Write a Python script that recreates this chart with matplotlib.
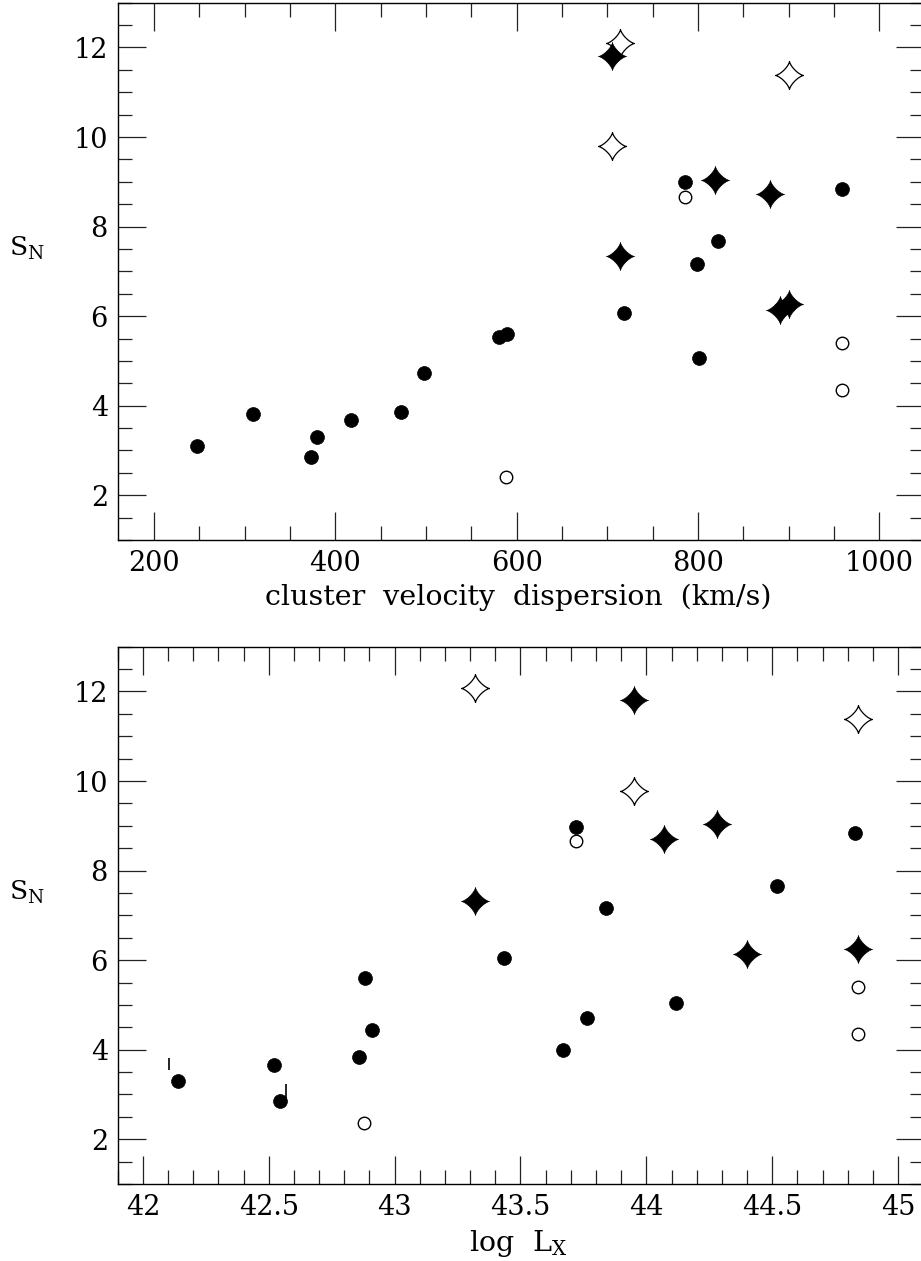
import matplotlib
matplotlib.use("Agg")
import matplotlib.pyplot as plt
from matplotlib.path import Path
from matplotlib.ticker import MultipleLocator
import numpy as np

plt.rcParams['font.family'] = ['DejaVu Serif']
plt.rcParams['mathtext.fontset'] = 'custom'
plt.rcParams['mathtext.rm'] = 'DejaVu Serif'

# ---- top panel: S_N vs cluster velocity dispersion ----
sig_dot = [247, 309, 373, 380, 417, 472, 498, 581, 589, 718, 799, 801, 822, 786, 959]
sn_dot = [3.10, 3.81, 2.86, 3.31, 3.67, 3.85, 4.74, 5.53, 5.60, 6.06, 7.17, 5.06, 7.67, 8.99, 8.84]

sig_ring = [588, 786, 959, 959]
sn_ring = [2.41, 8.66, 5.41, 4.35]

sig_star = [705, 714, 819, 879, 890, 900]
sn_star = [11.82, 7.34, 9.05, 8.72, 6.14, 6.27]

sig_ostar = [714, 705, 900]
sn_ostar = [12.09, 9.79, 11.38]

# ---- bottom panel: S_N vs log L_X ----
lx_dot = [42.14, 42.52, 42.545, 42.86, 42.884, 42.91, 43.435, 43.668, 43.72,
          43.763, 43.84, 44.117, 44.52, 44.83]
sn2_dot = [3.29, 3.66, 2.86, 3.84, 5.60, 4.44, 6.04, 4.00, 8.97,
           4.71, 7.16, 5.05, 7.65, 8.83]

lx_ring = [42.88, 43.72, 44.842, 44.842]
sn2_ring = [2.37, 8.65, 5.39, 4.34]

lx_star = [43.95, 43.32, 44.07, 44.28, 44.40, 44.842]
sn2_star = [11.81, 7.32, 8.71, 9.03, 6.14, 6.25]

lx_ostar = [43.32, 43.95, 44.84]
sn2_ostar = [12.07, 9.78, 11.38]

# short vertical bars near the faint clusters
lx_bar = [42.105, 42.567]
bar_lo = [3.54, 2.86]
bar_hi = [3.81, 3.24]

# four-pointed star marker (astroid-like)
t = np.linspace(0, 2 * np.pi, 121)
c, s = np.cos(t), np.sin(t)
k = 2.7
verts = np.column_stack([np.sign(c) * np.abs(c) ** k, np.sign(s) * np.abs(s) ** k])
star = Path(verts, closed=True)

fig = plt.figure(figsize=(9.21, 12.61), dpi=100)
W, H = 921.0, 1261.0
left = 117.7 / W
width = (923.5 - 117.7) / W
ax1 = fig.add_axes([left, 1 - 540 / H, width, 537.3 / H])
ax2 = fig.add_axes([left, 1 - 1184 / H, width, 537.3 / H])


def style(ax, major, minor):
    ax.set_ylim(1, 13)
    ax.xaxis.set_major_locator(MultipleLocator(major))
    ax.xaxis.set_minor_locator(MultipleLocator(minor))
    ax.yaxis.set_major_locator(MultipleLocator(2))
    ax.yaxis.set_minor_locator(MultipleLocator(0.5))
    ax.tick_params(which='both', direction='in', top=True, right=True,
                   width=0.9, labelsize=19.5, color='#222222')
    ax.tick_params(which='major', length=20)
    ax.tick_params(which='minor', length=10)
    ax.tick_params(axis='y', pad=7)
    ax.tick_params(axis='x', pad=7)
    for sp in ax.spines.values():
        sp.set_linewidth(1.0)
    ax.set_ylabel(r'$\mathregular{S_N}$', rotation=0, fontsize=19,
                  ha='center', va='center')
    ax.yaxis.set_label_coords(-0.113, 0.543)


def draw(ax, xd, yd, xr, yr, xs, ys, xo, yo):
    ax.plot(xd, yd, 'o', ls='none', ms=10, mfc='black', mec='black', mew=0.5)
    ax.plot(xr, yr, 'o', ls='none', ms=9, mfc='white', mec='black', mew=1.0)
    ax.plot(xo, yo, marker=star, ls='none', ms=20, mfc='white', mec='black', mew=0.9)
    ax.plot(xs, ys, marker=star, ls='none', ms=20, mfc='black', mec='black', mew=0.5)


draw(ax1, sig_dot, sn_dot, sig_ring, sn_ring, sig_star, sn_star, sig_ostar, sn_ostar)
ax1.set_xlim(160, 1048.7)
style(ax1, 200, 50)
ax1.set_xlabel('cluster  velocity  dispersion  (km/s)', fontsize=20.5)
ax1.xaxis.set_label_coords(0.497, -0.082)

draw(ax2, lx_dot, sn2_dot, lx_ring, sn2_ring, lx_star, sn2_star, lx_ostar, sn2_ostar)
ax2.vlines(lx_bar, bar_lo, bar_hi, colors='black', lw=1.2)
ax2.set_xlim(41.9, 45.101)
style(ax2, 0.5, 0.1)
ax2.set_xticks([42, 42.5, 43, 43.5, 44, 44.5, 45])
ax2.set_xticklabels(['42', '42.5', '43', '43.5', '44', '44.5', '45'])
ax2.set_xlabel(r'$\mathregular{log\ \ L_X}$', fontsize=20.5)
ax2.xaxis.set_label_coords(0.497, -0.082)

fig.savefig('out.png', dpi=100)
